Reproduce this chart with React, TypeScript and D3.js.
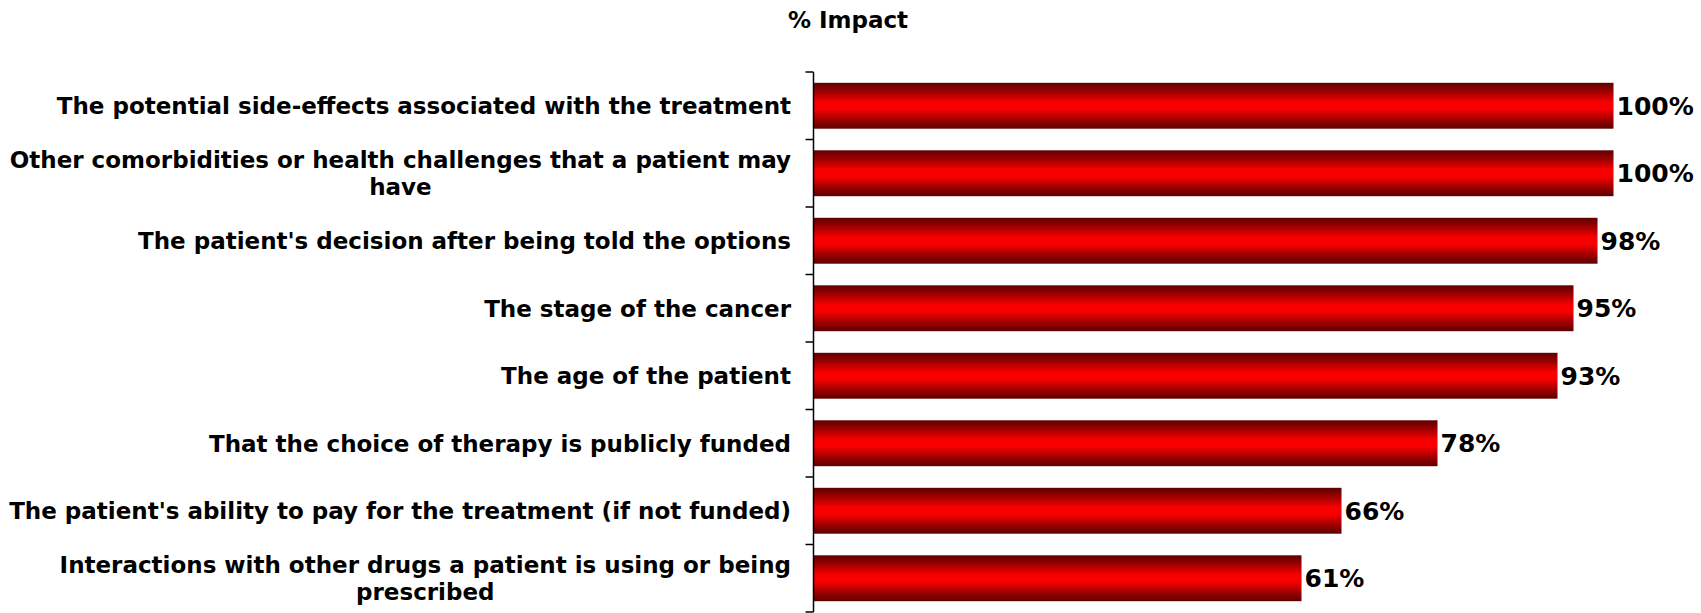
import React from "react";
import * as d3 from "d3";

const title = "% Impact";
const categories = [
  "The potential side-effects associated with the treatment",
  "Other comorbidities or health challenges that a patient may\nhave",
  "The patient's decision after being told the options",
  "The stage of the cancer",
  "The age of the patient",
  "That the choice of therapy is publicly funded",
  "The patient's ability to pay for the treatment (if not funded)",
  "Interactions with other drugs a patient is using or being\nprescribed",
];
const values = [100, 100, 98, 95, 93, 78, 66, 61];

const W = 1701;
const H = 613;
const FONT = "'DejaVu Sans', Verdana, sans-serif";

export default function App() {
  const x = d3.scaleLinear().domain([0, 100]).range([813.5, 1613.5]);
  const y = d3.scaleBand<string>().domain(categories).range([72, 612]).padding(0);
  const bw = y.bandwidth();
  const barH = bw * 0.68;
  const axisX = x(0);
  const ticks = d3.range(categories.length + 1).map((i) => 72 + i * bw);
  const labelRight = 791;
  const fs = 23;
  const lineH = 27;

  return (
    <svg
      width={W}
      height={H}
      style={{ position: "absolute", left: 0, top: 0, background: "#fff" }}
    >
      <defs>
        <linearGradient id="barGrad" x1="0" y1="0" x2="0" y2="1">
          <stop offset="0%" stopColor="#5e0000" />
          <stop offset="20%" stopColor="#a00000" />
          <stop offset="42%" stopColor="#f80000" />
          <stop offset="58%" stopColor="#f80000" />
          <stop offset="80%" stopColor="#a00000" />
          <stop offset="100%" stopColor="#5e0000" />
        </linearGradient>
      </defs>
      <text
        x={848}
        y={28}
        textAnchor="middle"
        fontFamily={FONT}
        fontWeight="bold"
        fontSize={23}
        fill="#000"
      >
        {title}
      </text>
      {categories.map((c, i) => {
        const cy = (y(c) as number) + bw / 2;
        const lines = c.split("\n");
        return (
          <g key={c}>
            <rect
              x={axisX}
              y={cy - barH / 2}
              width={x(values[i]) - axisX}
              height={barH}
              fill="url(#barGrad)"
            />
            <text
              x={x(values[i]) + 3}
              y={cy}
              dy="0.36em"
              fontFamily={FONT}
              fontWeight="bold"
              fontSize={25}
              fill="#000"
            >
              {values[i]}%
            </text>
            <LabelBlock lines={lines} right={labelRight} cy={cy} fs={fs} lineH={lineH} />
          </g>
        );
      })}
      <line x1={axisX} x2={axisX} y1={72} y2={612} stroke="#000" strokeWidth={1.5} />
      {ticks.map((t, i) => (
        <line key={i} x1={axisX - 8} x2={axisX} y1={t} y2={t} stroke="#000" strokeWidth={1.5} />
      ))}
    </svg>
  );
}

function LabelBlock({
  lines,
  right,
  cy,
  fs,
  lineH,
}: {
  lines: string[];
  right: number;
  cy: number;
  fs: number;
  lineH: number;
}) {
  const ref = React.useRef<SVGGElement>(null);
  React.useLayoutEffect(() => {
    const g = ref.current;
    if (!g) return;
    const texts = Array.from(g.querySelectorAll("text")) as SVGTextElement[];
    const widths = texts.map((t) => t.getComputedTextLength());
    const maxW = Math.max(...widths);
    const center = right - maxW / 2;
    texts.forEach((t) => t.setAttribute("x", String(center)));
  }, [lines.join("|")]);
  const n = lines.length;
  return (
    <g ref={ref}>
      {lines.map((l, k) => (
        <text
          key={k}
          x={right}
          y={cy + (k - (n - 1) / 2) * lineH}
          dy="0.36em"
          textAnchor="middle"
          fontFamily={FONT}
          fontWeight="bold"
          fontSize={fs}
          fill="#000"
        >
          {l}
        </text>
      ))}
    </g>
  );
}
